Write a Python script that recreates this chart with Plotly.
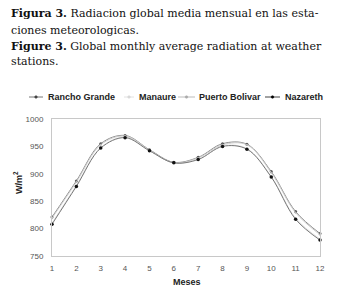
import plotly.graph_objects as go

months = list(range(1, 13))
month_labels = [str(m) for m in months]
rancho_grande = [821, 887, 955, 970, 944, 921, 930, 955, 954, 904, 831, 791]
manaure = [810, 879, 948, 967, 942, 920, 927, 951, 946, 895, 819, 781]
puerto_bolivar = [819, 885, 953, 969, 943, 920, 929, 953, 953, 902, 829, 789]
nazareth = [808, 877, 947, 966, 942, 920, 926, 950, 945, 894, 817, 779]
y_ticks = [750, 800, 850, 900, 950, 1000]

series = [
    ("Rancho Grande", rancho_grande, "#8a8a8a", "#555555", 3),
    ("Manaure", manaure, "#e4e4e4", "#d8d8d8", 2),
    ("Puerto Bolivar", puerto_bolivar, "#cccccc", "#b8b8b8", 2),
    ("Nazareth", nazareth, "#777777", "#111111", 3.5),
]

fig = go.Figure()
for name, vals, lc, mc, ms in series:
    fig.add_trace(go.Scatter(
        x=months, y=vals, name=name, mode="lines+markers",
        line=dict(color=lc, width=1, shape="spline", smoothing=1),
        marker=dict(color=mc, size=ms, symbol="circle"),
        showlegend=False, cliponaxis=False,
    ))

# page body has an 8px margin; compensate so the picture lands at the reference spots
OFF = 8
FW, FH = 337 - OFF, 289 - OFF
L, R, T, B = 52, 320, 119, 256
W, H = R - L, B - T


def px(xp):
    return (xp - L) / W


def py(yp):
    return (B - yp) / H


annotations = []
title_lines = [
    ("<b>Figura 3.</b> Radiacion global media mensual en las esta-", 14),
    ("ciones meteorologicas.", 30),
    ("<b>Figure 3.</b> Global monthly average radiation at weather", 46),
    ("stations.", 61),
]
for txt, yy in title_lines:
    annotations.append(dict(
        text=txt, x=px(9), y=py(yy), xref="paper", yref="paper",
        xanchor="left", yanchor="middle", showarrow=False,
        font=dict(family="DejaVu Serif", size=11, color="#111111"),
    ))

legend_items = [
    ("Rancho Grande", 29, 43, 46, "#777777", "#444444"),
    ("Manaure", 124, 134, 137, "#e2e2e2", "#d8d8d8"),
    ("Puerto Bolivar", 178, 195, 197, "#bbbbbb", "#aaaaaa"),
    ("Nazareth", 265, 280, 283, "#444444", "#000000"),
]
shapes = []
ly = 97
for name, x0, x1, tx, lc, mc in legend_items:
    shapes.append(dict(type="line", xref="paper", yref="paper",
                       x0=px(x0), x1=px(x1), y0=py(ly), y1=py(ly),
                       line=dict(color=lc, width=1)))
    cx = (x0 + x1) / 2
    shapes.append(dict(type="circle", xref="paper", yref="paper",
                       x0=px(cx - 1.3), x1=px(cx + 1.3), y0=py(ly + 1.3), y1=py(ly - 1.3),
                       line=dict(color=mc, width=0.5), fillcolor=mc))
    annotations.append(dict(
        text="<b>%s</b>" % name, x=px(tx), y=py(ly), xref="paper", yref="paper",
        xanchor="left", yanchor="middle", showarrow=False,
        font=dict(family="Liberation Sans", size=9, color="#222222"),
    ))

annotations.append(dict(
    text="<b>W/m<sup>2</sup></b>", x=px(18), y=py(183), xref="paper", yref="paper",
    xanchor="center", yanchor="middle", showarrow=False, textangle=-90,
    font=dict(family="Liberation Sans", size=9, color="#222222"),
))
annotations.append(dict(
    text="<b>Meses</b>", x=px(187), y=py(282), xref="paper", yref="paper",
    xanchor="center", yanchor="middle", showarrow=False,
    font=dict(family="Liberation Sans", size=9, color="#222222"),
))

fig.update_layout(
    width=FW, height=FH,
    margin=dict(l=L - OFF, r=337 - R, t=T - OFF, b=289 - B, pad=0),
    paper_bgcolor="white", plot_bgcolor="white",
    showlegend=False,
    annotations=annotations, shapes=shapes,
    xaxis=dict(range=[1, 12], tickvals=months, ticktext=month_labels,
               showgrid=False, zeroline=False, showline=True, mirror=True,
               linecolor="#c8c8c8", linewidth=1, ticks="",
               ticklabelstandoff=4,
               tickfont=dict(family="Liberation Sans", size=8, color="#555555")),
    yaxis=dict(range=[750, 1000], tickvals=y_ticks,
               showgrid=False, zeroline=False, showline=True, mirror=True,
               linecolor="#c8c8c8", linewidth=1, ticks="",
               ticklabelstandoff=6,
               tickfont=dict(family="Liberation Sans", size=8, color="#555555")),
)

fig.write_html("out.html")
